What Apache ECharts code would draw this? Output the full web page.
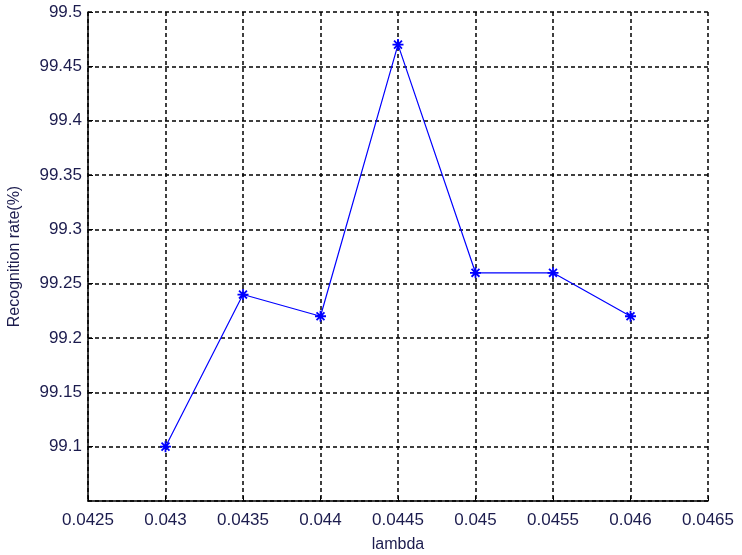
<!DOCTYPE html>
<html>
<head>
<meta charset="utf-8">
<script src="https://cdn.jsdelivr.net/npm/echarts@6/dist/echarts.min.js"></script>
<style>
  html, body { margin: 0; padding: 0; background: #fff; }
  #chart { width: 742px; height: 555px; }
</style>
</head>
<body>
<div id="chart"></div>
<script>
// lambda values and recognition rates
const lambdaValues = [0.043, 0.0435, 0.044, 0.0445, 0.045, 0.0455, 0.046];
const recognitionRate = [99.1, 99.24, 99.22, 99.47, 99.26, 99.26, 99.22];

const xRange = [0.0425, 0.0465];
const yRange = [99.05, 99.5];

const textColor = '#1c1c4e';
const fontFam = 'Arial, Liberation Sans';
const starPath = 'path://M0,-5L0,5M-5,0L5,0M-3.6,-3.6L3.6,3.6M-3.6,3.6L3.6,-3.6';

let dom = echarts.init(document.getElementById('chart'));
let option = {
  animation: false,
  backgroundColor: '#fff',
  grid: { left: 88, right: 34, top: 12, bottom: 54, containLabel: false, outerBoundsMode: 'none' },
  xAxis: {
    type: 'value',
    min: xRange[0],
    max: xRange[1],
    interval: 0.0005,
    name: 'lambda',
    nameLocation: 'middle',
    nameGap: 36,
    nameTextStyle: { color: textColor, fontFamily: fontFam, fontSize: 16 },
    axisLine: { show: true, lineStyle: { color: '#000', width: 1.5 } },
    axisTick: { show: true, inside: true, length: 5, lineStyle: { color: '#000' } },
    axisLabel: {
      color: textColor, fontFamily: fontFam, fontSize: 17, margin: 11,
      formatter: v => String(Number(v.toFixed(4)))
    },
    splitLine: { show: true, lineStyle: { color: '#000', type: [4, 3], width: 1.5 } }
  },
  yAxis: {
    type: 'value',
    min: yRange[0],
    max: yRange[1],
    interval: 0.05,
    name: 'Recognition rate(%)',
    nameLocation: 'middle',
    nameGap: 65,
    nameTextStyle: { color: textColor, fontFamily: fontFam, fontSize: 16 },
    axisLine: { show: true, lineStyle: { color: '#000', width: 1.5 } },
    axisTick: { show: true, inside: true, length: 5, lineStyle: { color: '#000' } },
    axisLabel: {
      color: textColor, fontFamily: fontFam, fontSize: 17, margin: 6,
      showMinLabel: false,
      formatter: v => String(Number(v.toFixed(2)))
    },
    splitLine: { show: true, lineStyle: { color: '#000', type: [4, 3], width: 1.5 } }
  },
  series: [{
    type: 'line',
    data: lambdaValues.map((x, i) => [x, recognitionRate[i]]),
    symbol: starPath,
    symbolSize: 11,
    showAllSymbol: true,
    lineStyle: { color: '#0000ff', width: 1.2 },
    itemStyle: { color: 'rgba(0,0,0,0)', borderColor: '#0000ff', borderWidth: 1.8 }
  }]
};
dom.setOption(option);
</script>
</body>
</html>
